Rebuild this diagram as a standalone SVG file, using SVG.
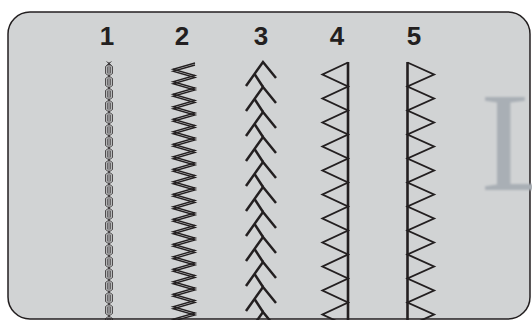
<svg xmlns="http://www.w3.org/2000/svg" xmlns:xlink="http://www.w3.org/1999/xlink" width="532" height="320" viewBox="0 0 532 320">
<style>
.lbl{font-family:"Liberation Sans",Arial,sans-serif;font-weight:bold;font-size:26px;fill:#231f20;text-anchor:middle}
.thin{fill:none;stroke:#231f20;stroke-width:0.75}
.zz{fill:none;stroke:#231f20;stroke-width:1.3;stroke-linejoin:miter}
.arr{fill:none;stroke:#231f20;stroke-width:2.5;stroke-linecap:butt;stroke-linejoin:miter}
.tri{fill:none;stroke:#231f20;stroke-width:1.9;stroke-linejoin:miter}
.bar{stroke:#231f20;stroke-width:2.6}
</style>
<defs>
<path id="link" class="thin" d="M109,0 L112.5,2.5 L112.5,9.5 L109,12 L105.5,9.5 L105.5,2.5 Z M107.3,2.5 L107.3,9.5 M110.7,2.5 L110.7,9.5"/>
<path id="chev" class="arr" d="M246,24 L263,0 L276,16 M254.5,12 L263,25"/>
<polyline id="zig" class="zz" points="195,63 173,69.25 195,75.5 173,81.75 195,88 173,94.25 195,100.5 173,106.75 195,113 173,119.25 195,125.5 173,131.75 195,138 173,144.25 195,150.5 173,156.75 195,163 173,169.25 195,175.5 173,181.75 195,188 173,194.25 195,200.5 173,206.75 195,213 173,219.25 195,225.5 173,231.75 195,238 173,244.25 195,250.5 173,256.75 195,263 173,269.25 195,275.5 173,281.75 195,288 173,294.25 195,300.5 173,306.75 195,313 173,319.25 195,325.5"/>
<filter id="soft" x="-20%" y="-20%" width="140%" height="140%"><feGaussianBlur stdDeviation="1.2"/></filter>
</defs>
<rect width="532" height="320" fill="#ffffff"/>
<g id="panel">
<rect x="8" y="12" width="522" height="307" rx="22" ry="22" fill="#d1d3d4" stroke="#231f20" stroke-width="1.5"/>
</g>
<g id="watermark">
<text x="481" y="190" font-family="'Liberation Serif','Times New Roman',serif" font-size="142" fill="#a9afb5" filter="url(#soft)">L</text>
</g>
<g id="labels">
<text class="lbl" x="107" y="45">1</text>
<text class="lbl" x="182" y="45">2</text>
<text class="lbl" x="261" y="45">3</text>
<text class="lbl" x="337" y="45">4</text>
<text class="lbl" x="414" y="45">5</text>
</g>
<g id="stitch1">
<line class="thin" x1="109" y1="62" x2="109" y2="320"/>
<path class="thin" d="M106.5,61.5 L111.5,65.5 M111.5,61.5 L106.5,65.5"/>
<use xlink:href="#link" y="64"/><use xlink:href="#link" y="76"/><use xlink:href="#link" y="88"/><use xlink:href="#link" y="100"/>
<use xlink:href="#link" y="112"/><use xlink:href="#link" y="124"/><use xlink:href="#link" y="136"/><use xlink:href="#link" y="148"/>
<use xlink:href="#link" y="160"/><use xlink:href="#link" y="172"/><use xlink:href="#link" y="184"/><use xlink:href="#link" y="196"/>
<use xlink:href="#link" y="208"/><use xlink:href="#link" y="220"/><use xlink:href="#link" y="232"/><use xlink:href="#link" y="244"/>
<use xlink:href="#link" y="256"/><use xlink:href="#link" y="268"/><use xlink:href="#link" y="280"/><use xlink:href="#link" y="292"/>
<use xlink:href="#link" y="304"/><use xlink:href="#link" y="316"/>
</g>
<g id="stitch2">
<use xlink:href="#zig"/>
<use xlink:href="#zig" y="2"/>
</g>
<g id="stitch3">
<use xlink:href="#chev" y="62"/><use xlink:href="#chev" y="87"/><use xlink:href="#chev" y="112"/><use xlink:href="#chev" y="137"/>
<use xlink:href="#chev" y="162"/><use xlink:href="#chev" y="187"/><use xlink:href="#chev" y="212"/><use xlink:href="#chev" y="237"/>
<use xlink:href="#chev" y="262"/><use xlink:href="#chev" y="287"/><use xlink:href="#chev" y="312"/>
</g>
<g id="stitch4">
<line class="bar" x1="348" y1="62" x2="348" y2="320"/>
<polyline class="tri" points="348,62.5 322.5,74.5 348,86.5 322.5,98.5 348,110.5 322.5,122.5 348,134.5 322.5,146.5 348,158.5 322.5,170.5 348,182.5 322.5,194.5 348,206.5 322.5,218.5 348,230.5 322.5,242.5 348,254.5 322.5,266.5 348,278.5 322.5,290.5 348,302.5 322.5,314.5 348,326.5"/>
</g>
<g id="stitch5">
<line class="bar" x1="407.5" y1="62" x2="407.5" y2="320"/>
<polyline class="tri" points="407.5,62.5 434,74.5 407.5,86.5 434,98.5 407.5,110.5 434,122.5 407.5,134.5 434,146.5 407.5,158.5 434,170.5 407.5,182.5 434,194.5 407.5,206.5 434,218.5 407.5,230.5 434,242.5 407.5,254.5 434,266.5 407.5,278.5 434,290.5 407.5,302.5 434,314.5 407.5,326.5"/>
</g>
</svg>
